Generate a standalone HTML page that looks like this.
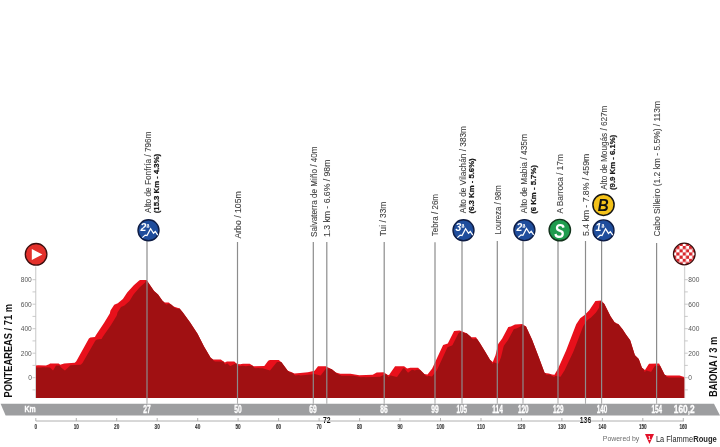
<!DOCTYPE html>
<html><head><meta charset="utf-8"><style>
html,body{margin:0;padding:0;background:#fff;width:720px;height:447px;overflow:hidden;}
svg{display:block;font-family:"Liberation Sans", sans-serif;will-change:transform;}
</style></head><body>
<svg width="720" height="447" viewBox="0 0 720 447" font-family='"Liberation Sans", sans-serif'>
<defs>
<clipPath id="cpx"><rect x="36.0" y="0" width="648.2" height="398.0"/></clipPath>
<pattern id="chk" x="682.7" y="252.4" width="6.4" height="6.4" patternUnits="userSpaceOnUse"><rect width="6.4" height="6.4" fill="#fff"/><rect width="3.2" height="3.2" fill="#d8262c"/><rect x="3.2" y="3.2" width="3.2" height="3.2" fill="#d8262c"/></pattern>
</defs>
<line x1="35.7" y1="266.5" x2="35.7" y2="398" stroke="#d4d4d4" stroke-width="1.3"/>
<line x1="684.6" y1="266.5" x2="684.6" y2="398" stroke="#d4d4d4" stroke-width="1.3"/>
<line x1="32.5" y1="389.9" x2="35.7" y2="389.9" stroke="#bdbdbd" stroke-width="0.8"/>
<line x1="684.6" y1="389.9" x2="687.8" y2="389.9" stroke="#bdbdbd" stroke-width="0.8"/>
<line x1="32.5" y1="377.7" x2="35.7" y2="377.7" stroke="#bdbdbd" stroke-width="0.8"/>
<line x1="684.6" y1="377.7" x2="687.8" y2="377.7" stroke="#bdbdbd" stroke-width="0.8"/>
<line x1="32.5" y1="365.4" x2="35.7" y2="365.4" stroke="#bdbdbd" stroke-width="0.8"/>
<line x1="684.6" y1="365.4" x2="687.8" y2="365.4" stroke="#bdbdbd" stroke-width="0.8"/>
<line x1="32.5" y1="353.2" x2="35.7" y2="353.2" stroke="#bdbdbd" stroke-width="0.8"/>
<line x1="684.6" y1="353.2" x2="687.8" y2="353.2" stroke="#bdbdbd" stroke-width="0.8"/>
<line x1="32.5" y1="340.9" x2="35.7" y2="340.9" stroke="#bdbdbd" stroke-width="0.8"/>
<line x1="684.6" y1="340.9" x2="687.8" y2="340.9" stroke="#bdbdbd" stroke-width="0.8"/>
<line x1="32.5" y1="328.7" x2="35.7" y2="328.7" stroke="#bdbdbd" stroke-width="0.8"/>
<line x1="684.6" y1="328.7" x2="687.8" y2="328.7" stroke="#bdbdbd" stroke-width="0.8"/>
<line x1="32.5" y1="316.4" x2="35.7" y2="316.4" stroke="#bdbdbd" stroke-width="0.8"/>
<line x1="684.6" y1="316.4" x2="687.8" y2="316.4" stroke="#bdbdbd" stroke-width="0.8"/>
<line x1="32.5" y1="304.2" x2="35.7" y2="304.2" stroke="#bdbdbd" stroke-width="0.8"/>
<line x1="684.6" y1="304.2" x2="687.8" y2="304.2" stroke="#bdbdbd" stroke-width="0.8"/>
<line x1="32.5" y1="291.9" x2="35.7" y2="291.9" stroke="#bdbdbd" stroke-width="0.8"/>
<line x1="684.6" y1="291.9" x2="687.8" y2="291.9" stroke="#bdbdbd" stroke-width="0.8"/>
<line x1="32.5" y1="279.7" x2="35.7" y2="279.7" stroke="#bdbdbd" stroke-width="0.8"/>
<line x1="684.6" y1="279.7" x2="687.8" y2="279.7" stroke="#bdbdbd" stroke-width="0.8"/>
<text x="31.8" y="380.0" font-size="6.6" fill="#555" text-anchor="end">0</text>
<text x="688.3" y="380.0" font-size="6.6" fill="#555">0</text>
<text x="31.8" y="355.5" font-size="6.6" fill="#555" text-anchor="end">200</text>
<text x="688.3" y="355.5" font-size="6.6" fill="#555">200</text>
<text x="31.8" y="331.0" font-size="6.6" fill="#555" text-anchor="end">400</text>
<text x="688.3" y="331.0" font-size="6.6" fill="#555">400</text>
<text x="31.8" y="306.5" font-size="6.6" fill="#555" text-anchor="end">600</text>
<text x="688.3" y="306.5" font-size="6.6" fill="#555">600</text>
<text x="31.8" y="282.0" font-size="6.6" fill="#555" text-anchor="end">800</text>
<text x="688.3" y="282.0" font-size="6.6" fill="#555">800</text>
<g clip-path="url(#cpx)">
<polygon points="10.0,365.4 36.0,365.4 38.0,365.2 46.0,365.4 49.1,364.2 50.1,363.4 58.7,363.4 60.2,364.7 64.2,363.4 74.8,362.7 76.3,361.2 88.9,338.6 90.4,337.6 94.9,337.0 96.0,335.0 104.0,323.0 109.8,313.5 110.5,310.6 114.2,304.8 117.8,303.3 122.9,299.0 127.2,292.4 133.8,285.2 138.9,280.8 140.0,280.1 146.5,280.0 154.1,291.1 158.1,294.5 162.8,301.2 164.8,302.5 168.8,302.5 173.5,306.5 179.6,308.6 182.9,312.6 190.3,322.7 197.7,334.1 204.0,346.5 210.8,357.9 213.4,359.6 220.8,359.6 224.9,362.6 226.9,361.5 234.3,361.5 237.0,363.9 240.3,364.2 243.0,363.7 249.7,363.7 253.7,366.3 264.3,366.0 268.2,360.7 269.9,360.1 278.8,360.1 281.6,362.4 287.8,370.8 291.1,371.9 294.5,373.6 300.1,373.0 307.9,372.2 312.4,371.3 314.6,370.8 318.0,366.3 325.8,366.3 328.1,367.4 331.9,369.3 335.8,372.4 340.3,373.8 350.4,373.8 359.3,375.2 372.7,374.7 376.7,372.4 383.9,372.2 387.3,374.7 389.0,374.9 395.1,366.3 404.1,366.3 407.1,368.5 410.3,367.7 418.1,367.7 424.3,374.0 427.5,374.5 432.2,368.5 443.1,345.0 447.8,343.5 454.1,331.0 459.6,330.6 461.1,331.0 466.6,333.3 471.3,337.2 476.0,337.2 480.0,343.2 485.4,352.0 490.1,360.0 492.8,362.0 495.5,355.3 498.2,343.9 502.2,338.5 508.3,327.1 510.9,326.4 515.0,324.4 522.4,324.1 526.0,326.4 532.0,339.4 538.7,357.0 544.6,372.9 548.8,373.4 552.1,374.6 554.5,374.7 558.1,368.6 566.1,350.5 576.2,324.3 580.2,318.2 584.3,315.2 589.3,310.2 595.4,301.1 601.4,300.5 604.4,304.1 610.5,316.2 614.5,322.3 618.5,324.3 622.6,329.3 626.3,334.9 630.2,340.3 634.9,355.2 638.8,359.1 641.9,367.7 645.0,370.1 649.0,363.8 659.1,363.5 664.6,374.8 667.0,375.6 679.5,375.6 684.2,377.1 700.0,377.1 700.0,408.0 10.0,408.0" fill="#e8101b"/>
<polygon points="36.0,367.4 41.0,367.4 42.5,367.2 44.5,367.3 46.0,367.4 46.5,367.3 49.5,367.4 50.0,367.5 53.0,370.4 53.5,369.8 56.0,365.6 56.5,365.4 59.5,365.4 60.0,365.6 60.5,366.9 64.5,370.2 65.0,370.4 70.5,365.3 80.5,364.7 81.0,364.5 82.0,363.6 82.5,363.0 95.0,341.3 95.5,340.5 97.0,339.6 101.5,339.0 102.0,338.3 103.0,336.6 110.0,326.5 111.0,325.0 116.5,316.0 117.0,314.7 117.5,312.6 121.0,307.1 121.5,306.7 124.5,305.4 125.0,305.1 129.5,301.1 133.5,294.6 139.5,287.6 140.0,287.0 144.5,283.1 145.0,282.7 145.5,281.6 146.5,280.2 147.0,280.7 154.0,291.0 158.0,294.4 162.5,300.8 163.0,301.3 164.0,302.1 164.5,303.0 165.0,303.6 166.0,304.3 166.5,304.5 167.0,304.5 167.5,304.3 168.0,303.8 168.5,303.7 170.5,304.3 171.0,304.5 171.5,304.8 173.5,306.5 175.0,307.9 178.0,308.9 179.0,308.4 179.5,308.6 182.5,312.1 190.0,322.3 197.5,333.8 204.0,346.5 210.5,357.4 211.0,358.0 212.0,358.7 212.5,359.3 213.5,360.6 214.5,361.3 215.0,361.6 223.5,361.6 224.0,362.4 224.5,363.4 225.0,364.4 225.5,364.3 226.5,363.7 227.0,363.5 227.5,363.5 230.0,366.0 230.5,366.1 234.5,364.1 235.0,363.5 236.5,363.5 237.0,364.3 238.5,365.7 240.0,366.2 242.5,365.8 246.0,366.2 249.0,365.7 252.5,365.7 253.0,366.3 253.5,367.0 254.0,367.5 255.0,368.2 259.0,368.1 259.5,368.2 260.0,368.3 262.5,368.2 270.0,370.6 277.0,362.1 281.0,362.1 281.5,362.3 287.5,370.4 288.0,370.9 288.5,371.0 289.0,371.7 289.5,372.3 291.0,372.5 292.5,373.0 293.0,373.2 294.5,374.9 295.5,375.5 299.0,375.1 299.5,375.2 300.5,375.6 313.5,374.2 314.5,374.1 320.5,375.5 321.0,375.0 326.0,368.4 329.0,368.3 329.5,368.4 330.5,368.9 331.5,369.1 332.0,369.4 335.5,372.2 336.0,372.7 337.0,373.6 337.5,373.9 338.5,374.2 339.0,374.4 340.0,375.1 341.5,375.7 342.0,375.8 353.5,375.8 357.5,376.4 359.5,377.0 360.5,377.2 364.0,377.0 365.5,377.2 380.0,376.7 384.5,374.5 386.5,374.3 387.5,375.4 388.0,376.7 389.0,376.9 390.0,375.5 391.0,375.6 392.5,375.9 393.0,376.1 393.5,376.2 394.5,376.5 395.0,376.6 395.5,376.7 397.0,376.9 403.0,368.4 403.5,368.3 404.0,368.3 404.5,368.6 408.0,372.8 412.0,369.7 413.5,370.0 414.5,370.5 417.0,369.7 420.0,369.7 424.0,373.7 425.5,375.4 426.0,375.7 426.5,376.3 427.5,376.5 428.0,375.9 428.5,375.8 429.0,376.0 432.0,376.5 436.5,370.8 437.0,369.9 447.5,347.2 448.0,346.9 452.0,345.6 452.5,345.1 458.5,333.2 460.5,331.5 462.0,332.7 463.5,332.6 465.0,333.2 466.0,333.2 466.5,333.3 467.0,333.6 470.5,336.5 471.5,338.0 472.5,338.9 473.0,339.2 474.5,339.2 475.0,338.6 476.5,339.1 477.0,339.2 477.5,339.4 480.0,343.2 485.5,352.2 490.0,359.8 491.0,360.7 491.5,361.2 492.0,363.4 492.5,363.8 493.0,363.5 493.5,362.3 494.0,362.3 494.5,362.5 495.0,362.8 498.0,363.8 498.5,363.5 501.0,357.3 503.5,346.7 504.0,345.5 507.5,340.8 508.0,339.9 513.5,329.7 514.0,329.0 516.5,328.4 520.5,326.4 521.0,325.8 522.0,324.8 522.5,324.5 524.0,326.0 524.5,326.2 525.5,326.2 526.0,326.4 532.0,339.4 538.5,356.5 544.5,372.6 545.0,372.9 545.5,373.1 546.0,374.4 546.5,374.7 547.5,374.8 549.0,374.6 550.0,374.7 550.5,374.8 552.0,375.9 553.0,376.3 553.5,376.7 554.5,376.7 555.0,375.9 555.5,375.7 558.0,376.6 560.5,376.7 564.0,371.2 564.5,370.4 572.5,353.5 573.0,352.4 575.0,347.6 583.0,326.8 583.5,325.8 587.0,320.5 587.5,320.0 591.0,317.4 595.0,313.5 596.0,312.4 596.5,311.8 599.0,307.8 599.5,302.9 600.5,301.3 601.0,301.1 602.0,302.7 602.5,303.0 603.5,303.0 604.5,304.3 610.5,316.2 614.5,322.3 615.5,322.8 616.0,323.4 617.0,323.9 617.5,323.8 618.5,324.3 622.5,329.2 626.0,334.4 630.0,340.0 630.5,341.3 634.5,353.9 635.0,355.3 638.5,358.8 639.0,359.7 641.5,366.6 642.0,367.8 643.5,368.9 644.0,370.1 644.5,371.7 645.0,372.1 646.0,370.5 646.5,370.5 647.5,370.7 648.0,371.1 650.0,371.6 650.5,371.7 651.0,372.1 655.0,365.8 660.0,365.7 660.5,366.4 664.5,374.6 665.0,374.9 665.5,375.1 666.0,376.1 666.5,376.7 667.0,377.0 668.5,377.6 682.5,377.6 683.0,377.8 684.0,378.4 689.2,378.4 689.2,408.0 31.0,408.0 31.0,367.4" fill="#a01012"/>
</g>
<line x1="147.0" y1="241.0" x2="147.0" y2="398" stroke="#8c8c8c" stroke-width="1.2"/>
<line x1="147.0" y1="398" x2="147.0" y2="403.8" stroke="#b0b0b0" stroke-width="1.1"/>
<text transform="translate(150.9,213.0) rotate(-90)" font-size="8.3" font-weight="normal" fill="#404040" stroke="#404040" stroke-width="0.08" textLength="81.5" lengthAdjust="spacingAndGlyphs">Alto de Fonfría / 796m</text>
<text transform="translate(158.8,213.2) rotate(-90)" font-size="7.6" font-weight="bold" fill="#151515" stroke="#151515" stroke-width="0.22" textLength="59.3" lengthAdjust="spacingAndGlyphs">(15.3 Km - 4.3%)</text>
<line x1="237.5" y1="242.0" x2="237.5" y2="398" stroke="#8c8c8c" stroke-width="1.2"/>
<line x1="237.5" y1="398" x2="237.5" y2="403.8" stroke="#b0b0b0" stroke-width="1.1"/>
<text transform="translate(241.1,238.6) rotate(-90)" font-size="8.3" font-weight="normal" fill="#404040" stroke="#404040" stroke-width="0.08" textLength="47.3" lengthAdjust="spacingAndGlyphs">Arbo / 105m</text>
<line x1="313.3" y1="242.0" x2="313.3" y2="398" stroke="#8c8c8c" stroke-width="1.2"/>
<line x1="313.3" y1="398" x2="313.3" y2="403.8" stroke="#b0b0b0" stroke-width="1.1"/>
<text transform="translate(316.6,237.0) rotate(-90)" font-size="8.3" font-weight="normal" fill="#404040" stroke="#404040" stroke-width="0.08" textLength="90.4" lengthAdjust="spacingAndGlyphs">Salvaterra de Miño / 40m</text>
<line x1="326.8" y1="242.0" x2="326.8" y2="398" stroke="#8c8c8c" stroke-width="1.2"/>
<line x1="326.8" y1="398" x2="326.8" y2="403.8" stroke="#b0b0b0" stroke-width="1.1"/>
<text transform="translate(329.6,237.0) rotate(-90)" font-size="8.3" font-weight="normal" fill="#404040" stroke="#404040" stroke-width="0.08" textLength="77.4" lengthAdjust="spacingAndGlyphs">1.3 km - 6.6% / 98m</text>
<line x1="384.2" y1="242.0" x2="384.2" y2="398" stroke="#8c8c8c" stroke-width="1.2"/>
<line x1="384.2" y1="398" x2="384.2" y2="403.8" stroke="#b0b0b0" stroke-width="1.1"/>
<text transform="translate(386.2,236.2) rotate(-90)" font-size="8.3" font-weight="normal" fill="#404040" stroke="#404040" stroke-width="0.08" textLength="34.5" lengthAdjust="spacingAndGlyphs">Tui / 33m</text>
<line x1="435.0" y1="242.3" x2="435.0" y2="398" stroke="#8c8c8c" stroke-width="1.2"/>
<line x1="435.0" y1="398" x2="435.0" y2="403.8" stroke="#b0b0b0" stroke-width="1.1"/>
<text transform="translate(438.0,236.2) rotate(-90)" font-size="8.3" font-weight="normal" fill="#404040" stroke="#404040" stroke-width="0.08" textLength="42.2" lengthAdjust="spacingAndGlyphs">Tebra / 26m</text>
<line x1="462.0" y1="241.0" x2="462.0" y2="398" stroke="#8c8c8c" stroke-width="1.2"/>
<line x1="462.0" y1="398" x2="462.0" y2="403.8" stroke="#b0b0b0" stroke-width="1.1"/>
<text transform="translate(466.4,213.3) rotate(-90)" font-size="8.3" font-weight="normal" fill="#404040" stroke="#404040" stroke-width="0.08" textLength="87.3" lengthAdjust="spacingAndGlyphs">Alto de Vilachán / 383m</text>
<text transform="translate(474.0,213.4) rotate(-90)" font-size="7.6" font-weight="bold" fill="#151515" stroke="#151515" stroke-width="0.22" textLength="55.0" lengthAdjust="spacingAndGlyphs">(6.3 Km - 5.6%)</text>
<line x1="497.3" y1="241.0" x2="497.3" y2="398" stroke="#8c8c8c" stroke-width="1.2"/>
<line x1="497.3" y1="398" x2="497.3" y2="403.8" stroke="#b0b0b0" stroke-width="1.1"/>
<text transform="translate(500.6,234.6) rotate(-90)" font-size="8.3" font-weight="normal" fill="#404040" stroke="#404040" stroke-width="0.08" textLength="49.3" lengthAdjust="spacingAndGlyphs">Loureza / 98m</text>
<line x1="523.0" y1="241.0" x2="523.0" y2="398" stroke="#8c8c8c" stroke-width="1.2"/>
<line x1="523.0" y1="398" x2="523.0" y2="403.8" stroke="#b0b0b0" stroke-width="1.1"/>
<text transform="translate(527.3,213.3) rotate(-90)" font-size="8.3" font-weight="normal" fill="#404040" stroke="#404040" stroke-width="0.08" textLength="79.3" lengthAdjust="spacingAndGlyphs">Alto de Mabia / 435m</text>
<text transform="translate(535.5,213.8) rotate(-90)" font-size="7.6" font-weight="bold" fill="#151515" stroke="#151515" stroke-width="0.22" textLength="48.7" lengthAdjust="spacingAndGlyphs">(6 Km - 5.7%)</text>
<line x1="558.0" y1="241.0" x2="558.0" y2="398" stroke="#8c8c8c" stroke-width="1.2"/>
<line x1="558.0" y1="398" x2="558.0" y2="403.8" stroke="#b0b0b0" stroke-width="1.1"/>
<text transform="translate(562.8,213.6) rotate(-90)" font-size="8.3" font-weight="normal" fill="#404040" stroke="#404040" stroke-width="0.08" textLength="59.4" lengthAdjust="spacingAndGlyphs">A Barroca / 17m</text>
<line x1="585.5" y1="241.0" x2="585.5" y2="398" stroke="#8c8c8c" stroke-width="1.2"/>
<line x1="585.5" y1="398" x2="585.5" y2="403.8" stroke="#b0b0b0" stroke-width="1.1"/>
<text transform="translate(588.9,236.0) rotate(-90)" font-size="8.3" font-weight="normal" fill="#404040" stroke="#404040" stroke-width="0.08" textLength="82.2" lengthAdjust="spacingAndGlyphs">5.4 km - 7.8% / 459m</text>
<line x1="601.6" y1="241.0" x2="601.6" y2="398" stroke="#8c8c8c" stroke-width="1.2"/>
<line x1="601.6" y1="398" x2="601.6" y2="403.8" stroke="#b0b0b0" stroke-width="1.1"/>
<text transform="translate(606.8,189.7) rotate(-90)" font-size="8.3" font-weight="normal" fill="#404040" stroke="#404040" stroke-width="0.08" textLength="84.1" lengthAdjust="spacingAndGlyphs">Alto de Mougás / 627m</text>
<text transform="translate(614.8,190.0) rotate(-90)" font-size="7.6" font-weight="bold" fill="#151515" stroke="#151515" stroke-width="0.22" textLength="55.2" lengthAdjust="spacingAndGlyphs">(9.9 Km - 6.1%)</text>
<line x1="656.6" y1="243.0" x2="656.6" y2="398" stroke="#8c8c8c" stroke-width="1.2"/>
<line x1="656.6" y1="398" x2="656.6" y2="403.8" stroke="#b0b0b0" stroke-width="1.1"/>
<text transform="translate(660.3,236.5) rotate(-90)" font-size="8.3" font-weight="normal" fill="#404040" stroke="#404040" stroke-width="0.08" textLength="135.5" lengthAdjust="spacingAndGlyphs">Cabo Silleiro (1.2 km - 5.5%) / 113m</text>
<circle cx="148.5" cy="230.3" r="10.5" fill="#1f4d9c" stroke="#0e1c44" stroke-width="1.4"/><text x="140.6" y="231.1" font-size="10.2" font-weight="bold" font-style="italic" fill="#fff" textLength="5.8" lengthAdjust="spacingAndGlyphs">2</text><text x="146.5" y="226.8" font-size="5.2" font-weight="bold" fill="#fff">a</text><rect x="146.6" y="227.3" width="2.6" height="0.6" fill="#fff"/><polyline points="142.4,237.6 145.2,235.1 147.0,235.5 150.6,228.7 153.5,233.3 155.3,231.5 157.8,235.1" fill="none" stroke="#fff" stroke-width="1.25" stroke-linejoin="miter"/>
<circle cx="463.5" cy="230.3" r="10.5" fill="#1f4d9c" stroke="#0e1c44" stroke-width="1.4"/><text x="455.6" y="231.1" font-size="10.2" font-weight="bold" font-style="italic" fill="#fff" textLength="5.8" lengthAdjust="spacingAndGlyphs">3</text><text x="461.5" y="226.8" font-size="5.2" font-weight="bold" fill="#fff">a</text><rect x="461.6" y="227.3" width="2.6" height="0.6" fill="#fff"/><polyline points="457.4,237.6 460.2,235.1 462.0,235.5 465.6,228.7 468.5,233.3 470.3,231.5 472.8,235.1" fill="none" stroke="#fff" stroke-width="1.25" stroke-linejoin="miter"/>
<circle cx="524.4" cy="230.1" r="10.5" fill="#1f4d9c" stroke="#0e1c44" stroke-width="1.4"/><text x="516.5" y="230.9" font-size="10.2" font-weight="bold" font-style="italic" fill="#fff" textLength="5.8" lengthAdjust="spacingAndGlyphs">2</text><text x="522.4" y="226.6" font-size="5.2" font-weight="bold" fill="#fff">a</text><rect x="522.5" y="227.1" width="2.6" height="0.6" fill="#fff"/><polyline points="518.3,237.4 521.1,234.9 522.9,235.3 526.5,228.5 529.4,233.1 531.2,231.3 533.7,234.9" fill="none" stroke="#fff" stroke-width="1.25" stroke-linejoin="miter"/>
<circle cx="603.5" cy="230.4" r="10.5" fill="#1f4d9c" stroke="#0e1c44" stroke-width="1.4"/><text x="595.6" y="231.2" font-size="10.2" font-weight="bold" font-style="italic" fill="#fff" textLength="5.8" lengthAdjust="spacingAndGlyphs">1</text><text x="601.5" y="226.9" font-size="5.2" font-weight="bold" fill="#fff">a</text><rect x="601.6" y="227.4" width="2.6" height="0.6" fill="#fff"/><polyline points="597.4,237.7 600.2,235.2 602.0,235.6 605.6,228.8 608.5,233.4 610.3,231.6 612.8,235.2" fill="none" stroke="#fff" stroke-width="1.25" stroke-linejoin="miter"/>
<circle cx="559.8" cy="230.1" r="10.7" fill="#1f9c4e" stroke="#12331c" stroke-width="1.4"/>
<text x="559.5" y="237.6" font-size="20" font-weight="bold" font-style="italic" fill="#fff" text-anchor="middle" textLength="10.5" lengthAdjust="spacingAndGlyphs">S</text>
<circle cx="603.5" cy="204.8" r="10.6" fill="#f4c21a" stroke="#151515" stroke-width="1.5"/>
<text x="603.3" y="211.1" font-size="17" font-weight="bold" font-style="italic" fill="#111" text-anchor="middle" textLength="11" lengthAdjust="spacingAndGlyphs">B</text>
<circle cx="36.1" cy="254.3" r="10.8" fill="#e3302b" stroke="#3a0e0e" stroke-width="1.3"/>
<polygon points="31.8,249 31.8,260.1 42.4,254.6" fill="#fff"/>
<circle cx="684.3" cy="254" r="10.8" fill="url(#chk)" stroke="#3a0e0e" stroke-width="1.3"/>
<polygon points="0.6,403.8 714,403.8 720,415.5 5.6,415.5" fill="#9d9ea0"/>
<text x="30.1" y="412.1" font-size="9.8" font-weight="bold" fill="#fff" stroke="#fff" stroke-width="0.35" text-anchor="middle" textLength="11.2" lengthAdjust="spacingAndGlyphs">Km</text>
<text x="147.0" y="412.6" font-size="10" font-weight="bold" fill="#fff" stroke="#fff" stroke-width="0.3" text-anchor="middle" textLength="7.4" lengthAdjust="spacingAndGlyphs">27</text>
<text x="238.0" y="412.6" font-size="10" font-weight="bold" fill="#fff" stroke="#fff" stroke-width="0.3" text-anchor="middle" textLength="7.4" lengthAdjust="spacingAndGlyphs">50</text>
<text x="313.0" y="412.6" font-size="10" font-weight="bold" fill="#fff" stroke="#fff" stroke-width="0.3" text-anchor="middle" textLength="7.4" lengthAdjust="spacingAndGlyphs">69</text>
<text x="384.0" y="412.6" font-size="10" font-weight="bold" fill="#fff" stroke="#fff" stroke-width="0.3" text-anchor="middle" textLength="7.4" lengthAdjust="spacingAndGlyphs">86</text>
<text x="435.0" y="412.6" font-size="10" font-weight="bold" fill="#fff" stroke="#fff" stroke-width="0.3" text-anchor="middle" textLength="7.4" lengthAdjust="spacingAndGlyphs">99</text>
<text x="461.7" y="412.6" font-size="10" font-weight="bold" fill="#fff" stroke="#fff" stroke-width="0.3" text-anchor="middle" textLength="10.6" lengthAdjust="spacingAndGlyphs">105</text>
<text x="497.5" y="412.6" font-size="10" font-weight="bold" fill="#fff" stroke="#fff" stroke-width="0.3" text-anchor="middle" textLength="10.6" lengthAdjust="spacingAndGlyphs">114</text>
<text x="523.3" y="412.6" font-size="10" font-weight="bold" fill="#fff" stroke="#fff" stroke-width="0.3" text-anchor="middle" textLength="10.6" lengthAdjust="spacingAndGlyphs">120</text>
<text x="558.3" y="412.6" font-size="10" font-weight="bold" fill="#fff" stroke="#fff" stroke-width="0.3" text-anchor="middle" textLength="10.6" lengthAdjust="spacingAndGlyphs">129</text>
<text x="602.0" y="412.6" font-size="10" font-weight="bold" fill="#fff" stroke="#fff" stroke-width="0.3" text-anchor="middle" textLength="10.6" lengthAdjust="spacingAndGlyphs">140</text>
<text x="656.7" y="412.6" font-size="10" font-weight="bold" fill="#fff" stroke="#fff" stroke-width="0.3" text-anchor="middle" textLength="10.6" lengthAdjust="spacingAndGlyphs">154</text>
<text x="684.2" y="412.6" font-size="10" font-weight="bold" fill="#fff" stroke="#fff" stroke-width="0.3" text-anchor="middle" textLength="20.8" lengthAdjust="spacingAndGlyphs">160,2</text>
<text x="326.7" y="422.6" font-size="9.4" font-weight="bold" fill="#111" text-anchor="middle" textLength="7.6" lengthAdjust="spacingAndGlyphs">72</text>
<text x="585.5" y="422.6" font-size="9.4" font-weight="bold" fill="#111" text-anchor="middle" textLength="11.4" lengthAdjust="spacingAndGlyphs">136</text>
<line x1="35.8" y1="421" x2="683.9" y2="421" stroke="#b0b0b0" stroke-width="1"/>
<line x1="35.8" y1="418" x2="35.8" y2="421" stroke="#a8a8a8" stroke-width="0.9"/>
<text x="35.8" y="429.2" font-size="6.5" font-weight="bold" fill="#3a3a3a" stroke="#3a3a3a" stroke-width="0.15" text-anchor="middle" textLength="2.6" lengthAdjust="spacingAndGlyphs">0</text>
<line x1="76.3" y1="418" x2="76.3" y2="421" stroke="#a8a8a8" stroke-width="0.9"/>
<text x="76.3" y="429.2" font-size="6.5" font-weight="bold" fill="#3a3a3a" stroke="#3a3a3a" stroke-width="0.15" text-anchor="middle" textLength="5.2" lengthAdjust="spacingAndGlyphs">10</text>
<line x1="116.7" y1="418" x2="116.7" y2="421" stroke="#a8a8a8" stroke-width="0.9"/>
<text x="116.7" y="429.2" font-size="6.5" font-weight="bold" fill="#3a3a3a" stroke="#3a3a3a" stroke-width="0.15" text-anchor="middle" textLength="5.2" lengthAdjust="spacingAndGlyphs">20</text>
<line x1="157.2" y1="418" x2="157.2" y2="421" stroke="#a8a8a8" stroke-width="0.9"/>
<text x="157.2" y="429.2" font-size="6.5" font-weight="bold" fill="#3a3a3a" stroke="#3a3a3a" stroke-width="0.15" text-anchor="middle" textLength="5.2" lengthAdjust="spacingAndGlyphs">30</text>
<line x1="197.7" y1="418" x2="197.7" y2="421" stroke="#a8a8a8" stroke-width="0.9"/>
<text x="197.7" y="429.2" font-size="6.5" font-weight="bold" fill="#3a3a3a" stroke="#3a3a3a" stroke-width="0.15" text-anchor="middle" textLength="5.2" lengthAdjust="spacingAndGlyphs">40</text>
<line x1="238.1" y1="418" x2="238.1" y2="421" stroke="#a8a8a8" stroke-width="0.9"/>
<text x="238.1" y="429.2" font-size="6.5" font-weight="bold" fill="#3a3a3a" stroke="#3a3a3a" stroke-width="0.15" text-anchor="middle" textLength="5.2" lengthAdjust="spacingAndGlyphs">50</text>
<line x1="278.6" y1="418" x2="278.6" y2="421" stroke="#a8a8a8" stroke-width="0.9"/>
<text x="278.6" y="429.2" font-size="6.5" font-weight="bold" fill="#3a3a3a" stroke="#3a3a3a" stroke-width="0.15" text-anchor="middle" textLength="5.2" lengthAdjust="spacingAndGlyphs">60</text>
<line x1="319.1" y1="418" x2="319.1" y2="421" stroke="#a8a8a8" stroke-width="0.9"/>
<text x="319.1" y="429.2" font-size="6.5" font-weight="bold" fill="#3a3a3a" stroke="#3a3a3a" stroke-width="0.15" text-anchor="middle" textLength="5.2" lengthAdjust="spacingAndGlyphs">70</text>
<line x1="359.6" y1="418" x2="359.6" y2="421" stroke="#a8a8a8" stroke-width="0.9"/>
<text x="359.6" y="429.2" font-size="6.5" font-weight="bold" fill="#3a3a3a" stroke="#3a3a3a" stroke-width="0.15" text-anchor="middle" textLength="5.2" lengthAdjust="spacingAndGlyphs">80</text>
<line x1="400.0" y1="418" x2="400.0" y2="421" stroke="#a8a8a8" stroke-width="0.9"/>
<text x="400.0" y="429.2" font-size="6.5" font-weight="bold" fill="#3a3a3a" stroke="#3a3a3a" stroke-width="0.15" text-anchor="middle" textLength="5.2" lengthAdjust="spacingAndGlyphs">90</text>
<line x1="440.5" y1="418" x2="440.5" y2="421" stroke="#a8a8a8" stroke-width="0.9"/>
<text x="440.5" y="429.2" font-size="6.5" font-weight="bold" fill="#3a3a3a" stroke="#3a3a3a" stroke-width="0.15" text-anchor="middle" textLength="7.8" lengthAdjust="spacingAndGlyphs">100</text>
<line x1="481.0" y1="418" x2="481.0" y2="421" stroke="#a8a8a8" stroke-width="0.9"/>
<text x="481.0" y="429.2" font-size="6.5" font-weight="bold" fill="#3a3a3a" stroke="#3a3a3a" stroke-width="0.15" text-anchor="middle" textLength="7.8" lengthAdjust="spacingAndGlyphs">110</text>
<line x1="521.4" y1="418" x2="521.4" y2="421" stroke="#a8a8a8" stroke-width="0.9"/>
<text x="521.4" y="429.2" font-size="6.5" font-weight="bold" fill="#3a3a3a" stroke="#3a3a3a" stroke-width="0.15" text-anchor="middle" textLength="7.8" lengthAdjust="spacingAndGlyphs">120</text>
<line x1="561.9" y1="418" x2="561.9" y2="421" stroke="#a8a8a8" stroke-width="0.9"/>
<text x="561.9" y="429.2" font-size="6.5" font-weight="bold" fill="#3a3a3a" stroke="#3a3a3a" stroke-width="0.15" text-anchor="middle" textLength="7.8" lengthAdjust="spacingAndGlyphs">130</text>
<line x1="602.4" y1="418" x2="602.4" y2="421" stroke="#a8a8a8" stroke-width="0.9"/>
<text x="602.4" y="429.2" font-size="6.5" font-weight="bold" fill="#3a3a3a" stroke="#3a3a3a" stroke-width="0.15" text-anchor="middle" textLength="7.8" lengthAdjust="spacingAndGlyphs">140</text>
<line x1="642.8" y1="418" x2="642.8" y2="421" stroke="#a8a8a8" stroke-width="0.9"/>
<text x="642.8" y="429.2" font-size="6.5" font-weight="bold" fill="#3a3a3a" stroke="#3a3a3a" stroke-width="0.15" text-anchor="middle" textLength="7.8" lengthAdjust="spacingAndGlyphs">150</text>
<line x1="683.3" y1="418" x2="683.3" y2="421" stroke="#a8a8a8" stroke-width="0.9"/>
<text x="683.3" y="429.2" font-size="6.5" font-weight="bold" fill="#3a3a3a" stroke="#3a3a3a" stroke-width="0.15" text-anchor="middle" textLength="7.8" lengthAdjust="spacingAndGlyphs">160</text>
<text transform="translate(11.6,397.5) rotate(-90)" font-size="11.4" font-weight="bold" fill="#111" textLength="93.4" lengthAdjust="spacingAndGlyphs">PONTEAREAS / 71 m</text>
<text transform="translate(716.8,397.1) rotate(-90)" font-size="11.8" font-weight="bold" fill="#111" textLength="60.4" lengthAdjust="spacingAndGlyphs">BAIONA / 3 m</text>
<text x="602.8" y="440.5" font-size="7.2" fill="#6b6b6b" textLength="36.5" lengthAdjust="spacingAndGlyphs">Powered by</text>
<polygon points="645,433.9 654,433.9 649.5,444" fill="#e3122a"/>
<text x="649.5" y="440.2" font-size="5.2" font-weight="bold" fill="#fff" text-anchor="middle">1</text>
<text x="656" y="441.6" font-size="9" fill="#262626" textLength="37" lengthAdjust="spacingAndGlyphs">La Flamme</text>
<text x="693.2" y="441.6" font-size="9" font-weight="bold" fill="#262626" textLength="23.6" lengthAdjust="spacingAndGlyphs">Rouge</text>
</svg>
</body></html>
